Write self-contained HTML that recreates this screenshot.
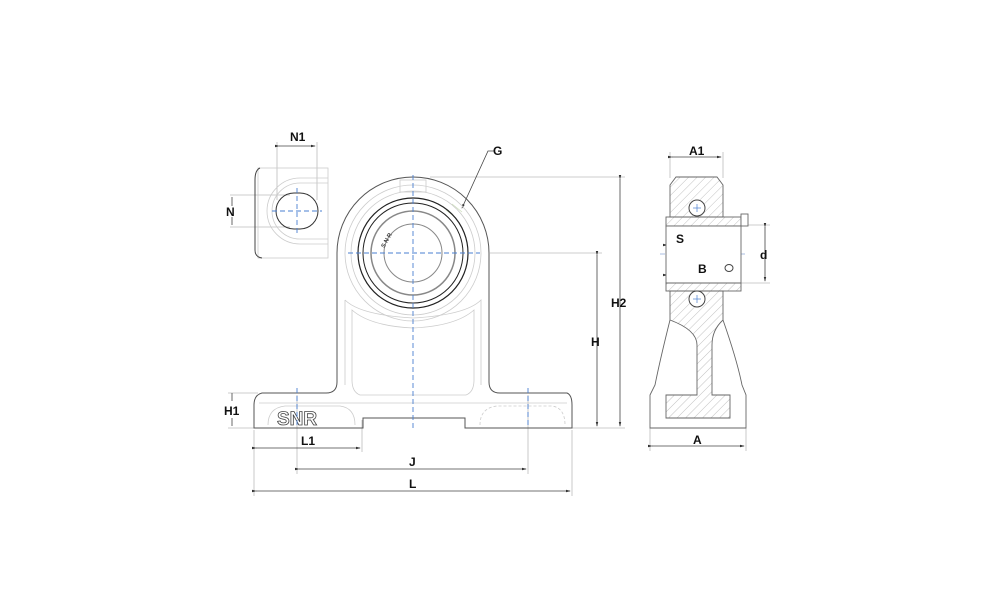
<!DOCTYPE html>
<html><head><meta charset="utf-8"><style>
html,body{margin:0;padding:0;background:#fff;}
svg{display:block;}
text{font-family:"Liberation Sans",Arial,sans-serif;font-weight:bold;font-size:12px;fill:#111;}
</style></head><body>
<svg width="1000" height="611" viewBox="0 0 1000 611" xmlns="http://www.w3.org/2000/svg">
<defs>
<pattern id="h" width="6" height="6" patternUnits="userSpaceOnUse" patternTransform="rotate(45)">
<line x1="0" y1="0" x2="0" y2="6" stroke="#999" stroke-width="0.6"/></pattern>
<marker id="a" markerWidth="6" markerHeight="6" refX="5" refY="3" orient="auto"><path d="M0,1.5L6,3L0,4.5z" fill="#333"/></marker>
</defs>
<g fill="none" stroke="#bbb" stroke-width="0.8">
<line x1="430" y1="177" x2="625" y2="177"/>
<line x1="490" y1="253" x2="602" y2="253"/>
<line x1="572" y1="428" x2="625" y2="428"/>
<line x1="228" y1="393" x2="258" y2="393"/>
<line x1="228" y1="428" x2="256" y2="428"/>
<line x1="254" y1="430" x2="254" y2="496"/>
<line x1="572" y1="430" x2="572" y2="496"/>
<line x1="362" y1="420" x2="362" y2="452"/>
<line x1="297" y1="395" x2="297" y2="474"/>
<line x1="528" y1="395" x2="528" y2="474"/>
<line x1="277" y1="142" x2="277" y2="200"/>
<line x1="317" y1="142" x2="317" y2="200"/>
<line x1="230" y1="195" x2="290" y2="195"/>
<line x1="230" y1="227" x2="290" y2="227"/>
<line x1="650" y1="428" x2="650" y2="451"/>
<line x1="746" y1="428" x2="746" y2="451"/>
<line x1="670" y1="152" x2="670" y2="178"/>
<line x1="723" y1="152" x2="723" y2="178"/>
<line x1="741" y1="225" x2="770" y2="225"/>
<line x1="741" y1="283" x2="770" y2="283"/>
</g>
<g stroke="#444" stroke-width="0.8" fill="none">
<line x1="256" y1="491" x2="570" y2="491" marker-start="url(#a)" marker-end="url(#a)"/>
<line x1="299" y1="469" x2="526" y2="469" marker-start="url(#a)" marker-end="url(#a)"/>
<line x1="256" y1="448" x2="360" y2="448" marker-start="url(#a)" marker-end="url(#a)"/>
<line x1="652" y1="446" x2="744" y2="446" marker-start="url(#a)" marker-end="url(#a)"/>
<line x1="597" y1="255" x2="597" y2="426" marker-start="url(#a)" marker-end="url(#a)"/>
<line x1="620" y1="179" x2="620" y2="426" marker-start="url(#a)" marker-end="url(#a)"/>
<line x1="765" y1="227" x2="765" y2="281" marker-start="url(#a)" marker-end="url(#a)"/>
<line x1="672" y1="157" x2="721" y2="157" marker-start="url(#a)" marker-end="url(#a)"/>
<line x1="279" y1="146" x2="315" y2="146" marker-start="url(#a)" marker-end="url(#a)"/>
<line x1="232" y1="197" x2="232" y2="206"/>
<line x1="232" y1="217" x2="232" y2="225"/>
<line x1="232" y1="393" x2="232" y2="401"/>
<line x1="232" y1="418" x2="232" y2="426"/>
<line x1="667" y1="245" x2="696" y2="245" marker-start="url(#a)" marker-end="url(#a)"/>
<line x1="667" y1="275" x2="739" y2="275" marker-start="url(#a)" marker-end="url(#a)"/>
<polyline points="495,151 488,151 462,208" marker-end="url(#a)"/>
</g>
<g fill="none" stroke="#555" stroke-width="1">
<path d="M337,253 A76,76 0 0 1 489,253 L489,382 Q489,393 500,393 L567,393 Q572,395 572,405 L572,428 L465,428 L465,418 L363,418 L363,428 L254,428 L254,405 Q254,395 262,393 L326,393 Q337,393 337,382 Z"/>
</g>
<g fill="none" stroke="#ccc" stroke-width="0.8">
<circle cx="413" cy="253" r="68"/>
<circle cx="413" cy="253" r="62"/>
<path d="M345,300 Q360,315 413,318 Q466,315 481,300 L481,385 M345,300 L345,385"/>
<path d="M352,310 Q370,326 413,328 Q456,326 474,310 L474,380 Q474,392 466,395 L360,395 Q352,392 352,380 Z"/>
<line x1="259" y1="403" x2="567" y2="403"/>
<path d="M268,425 Q268,408 285,406 L340,406 Q355,408 355,425"/>
<path d="M480,425 Q480,408 497,406 L552,406 Q565,408 565,425" stroke-dasharray="3,2"/>
<rect x="400" y="180" width="26" height="12"/>
<line x1="452" y1="204" x2="462" y2="212" stroke="#cdb"/>
<line x1="446" y1="210" x2="456" y2="218" stroke="#cdb"/>
</g>
<g fill="none" stroke="#222">
<circle cx="413" cy="253" r="55" stroke-width="1.2"/>
<circle cx="413" cy="253" r="50" stroke-width="1"/>
</g>
<g fill="none" stroke="#888">
<circle cx="413" cy="253" r="42" stroke-width="1.5"/>
<circle cx="413" cy="253" r="29" stroke-width="1"/>
</g>
<text x="376" y="246" style="font-size:6px;fill:#444" transform="rotate(-60 382 240)">S N R</text>
<text x="277" y="425" style="font-size:19px;fill:#fff;stroke:#444;stroke-width:0.8">SNR</text>
<g fill="none" stroke="#ccc" stroke-width="0.8">
<rect x="258" y="168" width="70" height="90"/>
<path d="M300,178 A33,33 0 0 0 300,244 L328,244 M300,183 A28,28 0 0 0 300,239 L328,239 M300,178 L328,178 M300,183 L328,183"/>
</g>
<path d="M260,168 Q255,170 255,180 L255,250 Q255,257 262,258" fill="none" stroke="#444"/>
<rect x="276" y="193" width="42" height="36" rx="18" fill="none" stroke="#333" stroke-width="1"/>
<g stroke="#4a7fd0" stroke-width="0.9" stroke-dasharray="5,3" fill="none">
<line x1="413" y1="175" x2="413" y2="428"/>
<line x1="348" y1="253" x2="480" y2="253"/>
<line x1="297" y1="188" x2="297" y2="234"/>
<line x1="272" y1="211" x2="322" y2="211"/>
<line x1="297" y1="388" x2="297" y2="428"/>
<line x1="528" y1="388" x2="528" y2="428"/>
<line x1="660" y1="254" x2="745" y2="254" stroke="#a8bde0"/>
</g>
<g stroke="#666" stroke-width="0.9">
<path d="M676,177 L717,177 L723,185 L723,217 L670,217 L670,185 Z" fill="url(#h)"/>
<rect x="666" y="217" width="75" height="9" fill="url(#h)"/>
<rect x="666" y="226" width="75" height="57" fill="#fff"/>
<rect x="666" y="283" width="75" height="8" fill="url(#h)"/>
<path d="M670,291 L723,291 L723,320 Q712,330 712,345 L712,395 L730,395 L730,418 L666,418 L666,395 L697,395 L697,345 Q697,330 670,320 Z" fill="url(#h)"/>
<path d="M670,320 Q660,360 655,385 L650,395 L650,428 L746,428 L746,395 L742,385 Q737,360 723,320" fill="none"/>
<rect x="741" y="214" width="7" height="12" fill="#fff"/>
</g>
<g fill="#fff" stroke="#444"><circle cx="697" cy="208" r="8"/><circle cx="697" cy="299" r="8"/><ellipse cx="729" cy="268" rx="4" ry="3.5"/></g>
<g stroke="#4a7fd0" stroke-width="0.7"><line x1="693" y1="208" x2="701" y2="208"/><line x1="697" y1="204" x2="697" y2="212"/><line x1="693" y1="299" x2="701" y2="299"/><line x1="697" y1="295" x2="697" y2="303"/></g>
<text x="493" y="155">G</text>
<text x="290" y="141">N1</text>
<text x="226" y="216">N</text>
<text x="224" y="415">H1</text>
<text x="301" y="445">L1</text>
<text x="409" y="466">J</text>
<text x="409" y="488">L</text>
<text x="591" y="346">H</text>
<text x="611" y="307">H2</text>
<text x="689" y="155">A1</text>
<text x="676" y="243">S</text>
<text x="698" y="273">B</text>
<text x="760" y="259">d</text>
<text x="693" y="444">A</text>
</svg>
</body></html>
